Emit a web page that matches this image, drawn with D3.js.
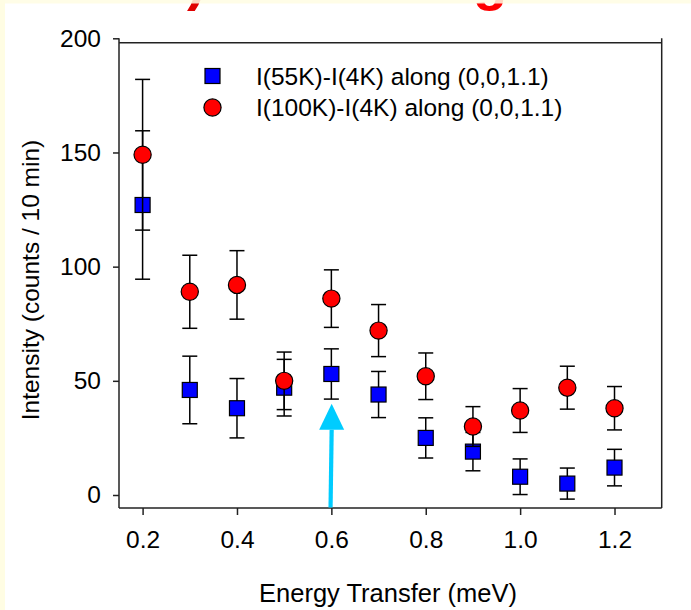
<!DOCTYPE html>
<html>
<head>
<meta charset="utf-8">
<script src="https://cdn.jsdelivr.net/npm/d3@7"></script>
<style>
  html, body { margin: 0; padding: 0; background: #ffffff; }
  svg { display: block; }
  text { font-family: "Liberation Sans", Arial, sans-serif; fill: #000; }
</style>
</head>
<body>
<svg id="chart" width="691" height="610"></svg>
<script>
// Energy transfer (meV)
const energy = [0.2, 0.3, 0.4, 0.5, 0.6, 0.7, 0.8, 0.9, 1.0, 1.1, 1.2];

// I(55K) - I(4K) along (0,0,1.1)
const i55 = [127, 46, 38, 47, 53, 44, 25, 19, 8, 5, 12];
const i55Err = [32.5, 14.8, 13, 12.4, 11, 10.1, 8.8, 8.4, 7.8, 6.8, 8];

// I(100K) - I(4K) along (0,0,1.1)
const i100 = [149, 89, 92, 50, 86, 72, 52, 30, 37, 47, 38];
const i100Err = [33, 16, 15, 12.6, 12.6, 11.4, 10.2, 8.7, 9.6, 9.4, 9.5];

const xTicks = [0.2, 0.4, 0.6, 0.8, 1.0, 1.2];
const yTicks = [0, 50, 100, 150, 200];

const legendLabels = ["I(55K)-I(4K) along (0,0,1.1)", "I(100K)-I(4K) along (0,0,1.1)"];
const xTitle = "Energy Transfer (meV)";
const yTitle = "Intensity (counts / 10 min)";

// marker position along the energy axis and the level its tip points to
const arrowEnergy = 0.6;
const arrowTip = 40;

const svg = d3.select("#chart");

// page edges: pale yellow slide background
const yellow = "#fffde3";

const x = d3.scaleLinear().domain([0.15, 1.3]).range([119, 661.7]);
const y = d3.scaleLinear().domain([0, 200]).range([495, 38.3]);
const yBottom = -5.7;   // lower edge of the frame
const yTopLine = 198;   // upper edge of the frame

// red slide heading, running off the top of the page
const heading = svg.append("g")
  .attr("font-family", "'Liberation Serif', 'Times New Roman', serif")
  .attr("font-weight", "bold")
  .attr("font-size", 56);
heading.append("text").attr("x", 187).attr("y", -1.5).style("fill", "#e00000").text(")");
heading.append("text").attr("x", 473).attr("y", -1.5).style("fill", "#ff0000").text("g");

svg.append("rect").attr("x", 0).attr("y", 0).attr("width", 691).attr("height", 3.5)
  .attr("fill", yellow).attr("opacity", 0.85);
svg.append("rect").attr("x", 0).attr("y", 0).attr("width", 5).attr("height", 610)
  .attr("fill", yellow);

// frame
const frame = svg.append("g").attr("stroke", "#222").attr("stroke-width", 1.5).attr("fill", "none");
frame.append("line").attr("x1", x.range()[0]).attr("x2", x.range()[0]).attr("y1", y(200)).attr("y2", y(yBottom));
frame.append("line").attr("x1", x.range()[1]).attr("x2", x.range()[1]).attr("y1", y(200)).attr("y2", y(yBottom));
frame.append("line").attr("x1", x.range()[0]).attr("x2", x.range()[1]).attr("y1", y(yTopLine)).attr("y2", y(yTopLine));
frame.append("line").attr("x1", x.range()[0]).attr("x2", x.range()[1]).attr("y1", y(yBottom)).attr("y2", y(yBottom));

// axes
const yAxis = svg.append("g")
  .attr("transform", `translate(${x.range()[0]},0)`)
  .call(d3.axisLeft(y).tickValues(yTicks).tickFormat(d3.format("d")).tickSize(6).tickPadding(12));
yAxis.select(".domain").remove();
yAxis.selectAll(".tick line").attr("stroke", "#222").attr("stroke-width", 1.5);
yAxis.selectAll(".tick text").attr("font-size", 24.5).attr("font-family", "'Liberation Sans', Arial, sans-serif");

const xAxis = svg.append("g")
  .attr("transform", `translate(0,${y(yBottom)})`)
  .call(d3.axisBottom(x).tickValues(xTicks).tickFormat(d3.format(".1f")).tickSize(7).tickPadding(16));
xAxis.select(".domain").remove();
xAxis.selectAll(".tick line").attr("stroke", "#222").attr("stroke-width", 1.5);
xAxis.selectAll(".tick text").attr("font-size", 24.5).attr("font-family", "'Liberation Sans', Arial, sans-serif");

svg.append("text")
  .attr("x", 388).attr("y", 602)
  .attr("text-anchor", "middle").attr("font-size", 25.5)
  .text(xTitle);

svg.append("text")
  .attr("transform", "translate(39,280) rotate(-90)")
  .attr("text-anchor", "middle").attr("font-size", 24.5)
  .text(yTitle);

// series with symmetric error bars
const series = [
  { values: i55, errors: i55Err, shape: "square", fill: "#0000ff" },
  { values: i100, errors: i100Err, shape: "circle", fill: "#ff0000" }
];
const cap = 7.5;

series.forEach(s => {
  const pts = energy.map((e, i) => ({ e, v: s.values[i], err: s.errors[i] }));
  const g = svg.append("g");
  const bars = g.selectAll("g.err").data(pts).join("g")
    .attr("class", "err").attr("stroke", "#000").attr("stroke-width", 1.5);
  bars.append("line")
    .attr("x1", d => x(d.e)).attr("x2", d => x(d.e))
    .attr("y1", d => y(d.v + d.err)).attr("y2", d => y(d.v - d.err));
  bars.append("line")
    .attr("x1", d => x(d.e) - cap).attr("x2", d => x(d.e) + cap)
    .attr("y1", d => y(d.v + d.err)).attr("y2", d => y(d.v + d.err));
  bars.append("line")
    .attr("x1", d => x(d.e) - cap).attr("x2", d => x(d.e) + cap)
    .attr("y1", d => y(d.v - d.err)).attr("y2", d => y(d.v - d.err));

  if (s.shape === "square") {
    g.selectAll("rect.mk").data(pts).join("rect").attr("class", "mk")
      .attr("x", d => x(d.e) - 7.5).attr("y", d => y(d.v) - 7.5)
      .attr("width", 15).attr("height", 15)
      .attr("fill", s.fill).attr("stroke", "#000").attr("stroke-width", 1.2);
  } else {
    g.selectAll("circle.mk").data(pts).join("circle").attr("class", "mk")
      .attr("cx", d => x(d.e)).attr("cy", d => y(d.v)).attr("r", 8.6)
      .attr("fill", s.fill).attr("stroke", "#000").attr("stroke-width", 1.2);
  }
});

// legend
const legend = svg.append("g");
legend.append("rect").attr("x", 205).attr("y", 68.5).attr("width", 15).attr("height", 15)
  .attr("fill", "#0000ff").attr("stroke", "#000").attr("stroke-width", 1.2);
legend.append("circle").attr("cx", 212.5).attr("cy", 107.5).attr("r", 8.6)
  .attr("fill", "#ff0000").attr("stroke", "#000").attr("stroke-width", 1.2);
legend.selectAll("text").data(legendLabels).join("text")
  .attr("x", 256).attr("y", (d, i) => 76 + i * 31).attr("dy", "0.35em")
  .attr("font-size", 24.5)
  .text(d => d);

// cyan arrow marking 0.6 meV
const ax = x(arrowEnergy);
const tipY = y(arrowTip);
const headLen = 26, headHalf = 12.5;
svg.append("line")
  .attr("x1", ax - 0.8).attr("y1", y(yBottom) - 0.5)
  .attr("x2", ax + 0.3).attr("y2", tipY + headLen)
  .attr("stroke", "#00ccff").attr("stroke-width", 4.2);
svg.append("path")
  .attr("d", `M${ax + 0.3},${tipY} L${ax + 0.3 + headHalf},${tipY + headLen} L${ax + 0.3 - headHalf},${tipY + headLen} Z`)
  .attr("fill", "#00ccff");
</script>
</body>
</html>
